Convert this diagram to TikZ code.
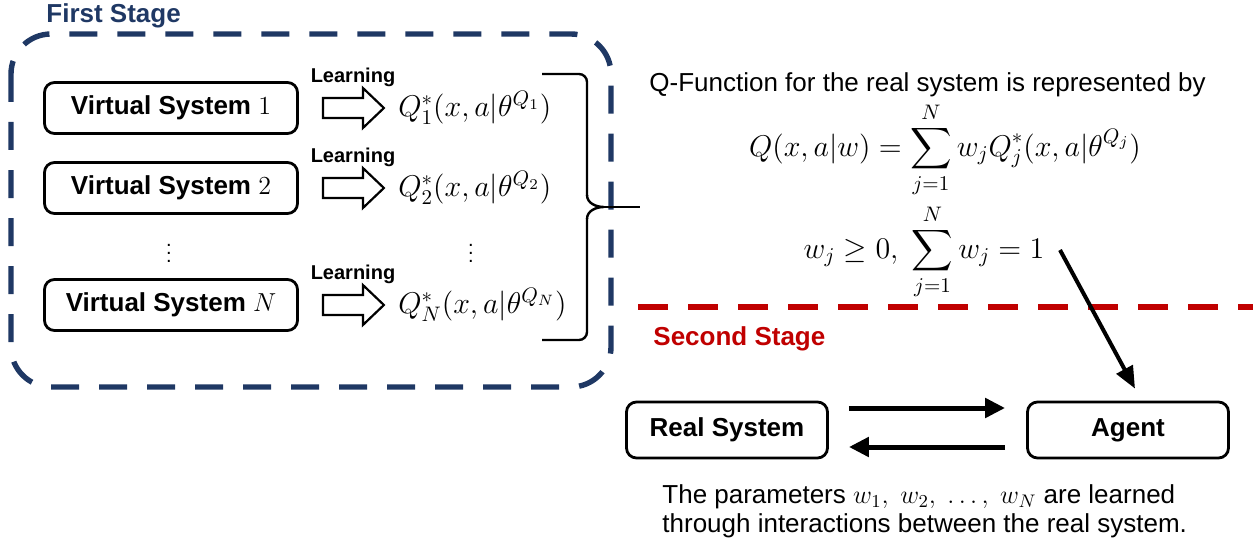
\RequirePackage{fix-cm}
\documentclass[tikz,border=0pt]{standalone}
\usepackage{exscale}
\usepackage{fontspec}
\setmainfont{Liberation Sans}
\usetikzlibrary{arrows.meta}
\definecolor{stageblue}{RGB}{31,56,100}
\definecolor{stagered}{RGB}{192,0,0}

\begin{document}
\begin{tikzpicture}[x=0.5pt,y=-0.5pt,
  txt/.style={inner sep=0pt,font=\fontsize{13}{14.5}\selectfont},
  boldtxt/.style={inner sep=0pt,font=\bfseries\fontsize{13}{14.5}\selectfont},
  learn/.style={inner sep=0pt,font=\bfseries\fontsize{10}{12}\selectfont},
  mathtxt/.style={inner sep=0pt,font=\fontsize{15}{18}\selectfont},
  sysbox/.style={draw,line width=1.4pt,rounded corners=5pt,minimum width=126.5pt,
    minimum height=25.5pt,font=\bfseries\fontsize{13}{15}\selectfont},
  hollow/.style={draw,line width=1.1pt,line join=miter},
  brack/.style={line width=1.2pt},
  flow/.style={line width=2.5pt,-{Triangle[length=10pt,width=9.5pt]}}]
\useasboundingbox (0,0) rectangle (1253,551);
\node[boldtxt,text=stageblue,anchor=base west] (first) at (46,23) {First Stage};
\draw[stageblue,line width=2.7pt,dash pattern=on 14pt off 10pt,rounded corners=20pt]
  (11,34) rectangle (611,387);
\foreach \Y/\K in {108/1,188/2,305/N}
{\node[sysbox] (vs\K) at (171,\Y) {Virtual System $\K$};
 \node[learn] (learn\K) at (353,\Y-31) {Learning};
 \draw[hollow] (vs\K.east) ++(24,-10) -- ++(40,0) -- ++(0,-10) -- ++(21,20)
   -- ++(-21,20) -- ++(0,-10) -- ++(-40,0) -- cycle;
 \node[mathtxt,anchor=west] (q\K) at (398,\Y) {$Q^*_{\K}(x,a|\theta^{Q_{\K}})$};}
\node[inner sep=0pt] (dotsL) at (169,247) {$\vdots$};
\node[inner sep=0pt] (dotsR) at (471,247) {$\vdots$};
\draw[brack,rounded corners=4pt] (542,74) -- (587,74) -- (587,196);
\draw[brack] (587,195) to[out=-90,in=180] (604,207) coordinate (tip)
  to[out=180,in=90] (587,219);
\draw[brack,rounded corners=4pt] (587,218) -- (587,340) -- (542,340);
\coordinate (tipend) at (640,207);
\draw[brack] (tip) -- (tipend);
\node[txt,anchor=base west] (qtitle) at (649,92) {Q-Function for the real system is represented by};
\node[mathtxt] (eq1) at (945,150) {$\displaystyle Q(x,a|w)=\sum_{j=1}^{N}w_jQ^*_j(x,a|\theta^{Q_j})$};
\node[mathtxt] (eq2) at (924,252) {$\displaystyle w_j\geq 0,\ \sum_{j=1}^{N}w_j=1$};
\coordinate (sepL) at (638,307);
\coordinate (sepR) at (1253,307);
\draw[stagered,line width=3pt,dash pattern=on 15pt off 10pt] (sepL) -- (sepR);
\node[boldtxt,text=stagered,anchor=base west] (second) at (653,345) {Second Stage};
\node[sysbox,minimum width=100.5pt,minimum height=28pt] (real) at (727,430) {Real System};
\node[sysbox,minimum width=100.5pt,minimum height=28pt] (agent) at (1128,430) {Agent};
\draw[flow] ([xshift=10pt,yshift=11pt]real.east) -- ([xshift=-10.5pt,yshift=11pt]agent.west);
\draw[flow] ([xshift=-10.5pt,yshift=-8.5pt]agent.west) -- ([xshift=10pt,yshift=-8.5pt]real.east);
\coordinate (wstart) at (1060,250);
\draw[line width=2pt,-{Triangle[length=11pt,width=9pt]}] (wstart) -- ([xshift=3.5pt,yshift=6pt]agent.north);
\node[txt,anchor=west,align=left] (caption) at (662,511)
  {The parameters $w_1,\ w_2,\ \ldots,\ w_N$ are learned\\through interactions between the real system.};
\end{tikzpicture}
\end{document}
